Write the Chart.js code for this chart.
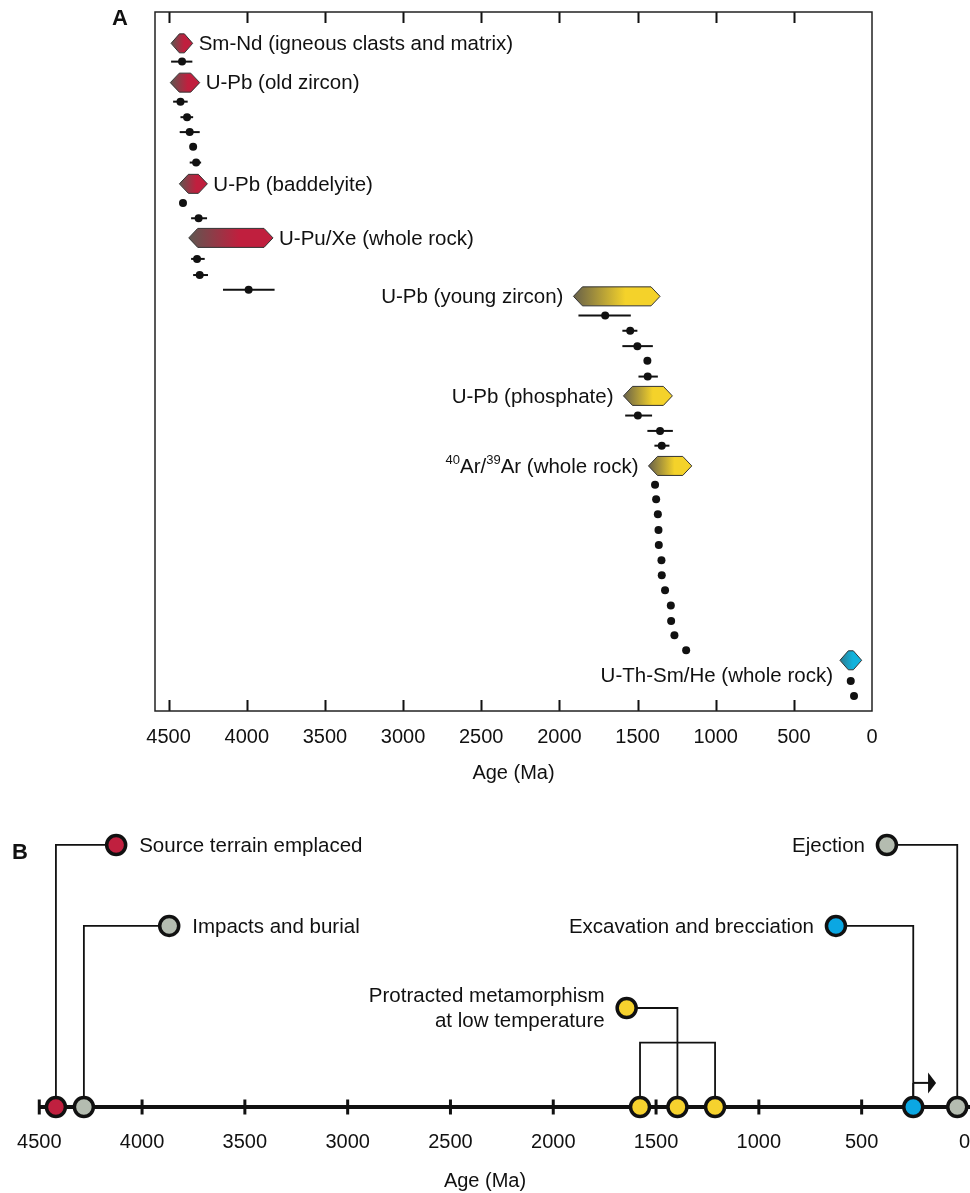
<!DOCTYPE html>
<html>
<head>
<meta charset="utf-8">
<script src="https://cdn.jsdelivr.net/npm/chart.js@4.4.1/dist/chart.umd.min.js"></script>
<style>
  html, body { margin: 0; padding: 0; background: #fff; }
  #wrap { position: relative; width: 970px; height: 1193px; overflow: hidden; }
  canvas { position: absolute; left: 0; }
  #chartA { top: 0; }
  #chartB { top: 800px; }
</style>
</head>
<body>
<div id="wrap">
  <canvas id="chartA" width="970" height="800"></canvas>
  <canvas id="chartB" width="970" height="393"></canvas>
</div>
<script>
// ---- Panel A: individual ages (Ma), 2-sigma range where drawn, row from top
const pointAge  = [4414, 4424, 4382, 4365, 4343, 4324, 4408, 4308, 4318, 4301, 3988,
                   1707, 1547, 1501, 1437, 1435, 1498, 1356, 1345,
                   1388, 1381, 1370, 1366, 1364, 1347, 1345, 1324, 1287, 1285, 1264, 1189,
                   136, 115];
const pointLow  = [4348, 4378, 4343, 4301, null, 4292, null, 4254, 4269, 4248, 3822,
                   1543, 1501, 1402, null, 1370, 1407, 1274, 1296,
                   null, null, null, null, null, null, null, null, null, null, null, null,
                   null, null];
const pointHigh = [4484, 4471, 4424, 4429, null, 4365, null, 4356, 4356, 4343, 4152,
                   1878, 1597, 1597, null, 1494, 1579, 1437, 1392,
                   null, null, null, null, null, null, null, null, null, null, null, null,
                   null, null];
const pointRow  = [3.26, 5.89, 6.91, 7.89, 8.86, 9.89, 12.54, 13.55, 16.22, 17.28, 18.24,
                   19.93, 20.94, 21.95, 22.91, 23.95, 26.51, 27.52, 28.49,
                   31.05, 32.01, 33.0, 34.03, 35.02, 36.01, 37.0, 37.98, 38.99, 40.0, 40.94, 41.93,
                   43.95, 44.93];

// method ranges (hexagons)
const hexLabel = ['Sm-Nd (igneous clasts and matrix)', 'U-Pb (old zircon)', 'U-Pb (baddelyite)',
                  'U-Pu/Xe (whole rock)', 'U-Pb (young zircon)', 'U-Pb (phosphate)',
                  '^40Ar/^39Ar (whole rock)', 'U-Th-Sm/He (whole rock)'];
const hexOld   = [4484, 4489, 4431, 4371, 1910, 1590, 1430, 205];
const hexYoung = [4346, 4301, 4252, 3832, 1356, 1277, 1153, 66];
const hexRow   = [2.06, 4.64, 11.29, 14.84, 18.68, 25.22, 29.82, 42.59];
const hexGroup = ['red', 'red', 'red', 'red', 'yellow', 'yellow', 'yellow', 'blue'];
const hexSide  = ['right', 'right', 'right', 'right', 'left', 'left', 'left', 'below'];

const ageTicks = [4500, 4000, 3500, 3000, 2500, 2000, 1500, 1000, 500, 0];

// ---- Panel B: timeline events
const eventAge   = [4419, 4283, 1578, 1396, 1213, 249, 35];
const eventGroup = ['red', 'gray', 'yellow', 'yellow', 'yellow', 'blue', 'gray'];
const calloutLabel = ['Source terrain emplaced', 'Impacts and burial',
                      'Protracted metamorphism\nat low temperature',
                      'Excavation and brecciation', 'Ejection'];
const calloutAge   = [4126, 3868, 1643, 625, 377];
const calloutLevel = [9.13, 6.31, 3.45, 6.31, 9.13];
const calloutEvent = [0, 1, 3, 5, 6];
const calloutGroup = ['red', 'gray', 'yellow', 'blue', 'gray'];
const calloutSide  = ['right', 'right', 'left', 'left', 'left'];
const bracketEvents = [2, 4];
const bracketLevel = 2.24;
const arrowFrom = 249, arrowTo = 138, arrowLevel = 0.84;

const FONT = '"Liberation Sans", Arial, Helvetica, sans-serif';
const fill = { red: '#c0203f', gray: '#b4bcb0', yellow: '#f6d22e', blue: '#0ba7e3' };
const hexColors = {
  red:    ['#5f5751', '#c01f3e'],
  yellow: ['#676049', '#f4d22a'],
  blue:   ['#2b7b8f', '#12b2dc']
};

function drawRich(ctx, text, x, y, align) {
  const parts = text.split(/(\^\d+)/).filter(Boolean);
  const big = '20.5px ' + FONT, small = '13px ' + FONT;
  const w = parts.map(p => {
    ctx.font = p[0] === '^' ? small : big;
    return ctx.measureText(p[0] === '^' ? p.slice(1) : p).width;
  });
  let cx = align === 'right' ? x - w.reduce((a, b) => a + b, 0) : x;
  ctx.textAlign = 'left';
  ctx.textBaseline = 'middle';
  parts.forEach((p, i) => {
    const sup = p[0] === '^';
    ctx.font = sup ? small : big;
    ctx.fillText(sup ? p.slice(1) : p, cx, sup ? y - 7 : y);
    cx += w[i];
  });
}

const panelA = {
  id: 'panelA',
  beforeDatasetsDraw(chart) {
    const { ctx, chartArea: a, scales: { x, y } } = chart;
    ctx.save();
    ctx.strokeStyle = '#111';
    ctx.lineWidth = 2;
    // inward ticks top and bottom
    ageTicks.forEach(v => {
      if (v === 0) return;
      const px = Math.round(x.getPixelForValue(v)) + 0.5;
      ctx.beginPath();
      ctx.moveTo(px, a.top); ctx.lineTo(px, a.top + 11);
      ctx.moveTo(px, a.bottom); ctx.lineTo(px, a.bottom - 11);
      ctx.stroke();
    });
    // error bars
    pointAge.forEach((v, i) => {
      if (pointLow[i] == null) return;
      const py = y.getPixelForValue(pointRow[i]);
      ctx.beginPath();
      ctx.moveTo(x.getPixelForValue(pointHigh[i]), py);
      ctx.lineTo(x.getPixelForValue(pointLow[i]), py);
      ctx.stroke();
    });
    // hexagons + labels
    hexRow.forEach((r, i) => {
      const x0 = x.getPixelForValue(hexOld[i]), x1 = x.getPixelForValue(hexYoung[i]);
      const cy = y.getPixelForValue(r), h = 9.5;
      const tip = Math.min(9, (x1 - x0) / 2.6);
      const c = hexColors[hexGroup[i]];
      const g = ctx.createLinearGradient(x0, 0, x1, 0);
      g.addColorStop(0, c[0]); g.addColorStop(0.6, c[1]); g.addColorStop(1, c[1]);
      ctx.beginPath();
      ctx.moveTo(x0, cy);
      ctx.lineTo(x0 + tip, cy - h);
      ctx.lineTo(x1 - tip, cy - h);
      ctx.lineTo(x1, cy);
      ctx.lineTo(x1 - tip, cy + h);
      ctx.lineTo(x0 + tip, cy + h);
      ctx.closePath();
      ctx.fillStyle = g;
      ctx.fill();
      ctx.lineWidth = 1;
      ctx.strokeStyle = '#333';
      ctx.stroke();
      ctx.fillStyle = '#111';
      if (hexSide[i] === 'right') drawRich(ctx, hexLabel[i], x1 + 6, cy + 1, 'left');
      else if (hexSide[i] === 'left') drawRich(ctx, hexLabel[i], x0 - 10, cy + 1, 'right');
      else drawRich(ctx, hexLabel[i], x0 - 7, cy + 16, 'right');
    });
    // frame
    ctx.lineWidth = 1.5;
    ctx.strokeStyle = '#222';
    ctx.strokeRect(a.left, a.top, a.right - a.left, a.bottom - a.top);
    // panel letter
    ctx.fillStyle = '#111';
    ctx.font = 'bold 22px ' + FONT;
    ctx.textAlign = 'center';
    ctx.textBaseline = 'middle';
    ctx.fillText('A', 120, 19);
    ctx.restore();
  }
};

new Chart(document.getElementById('chartA').getContext('2d'), {
  type: 'scatter',
  data: {
    datasets: [{
      data: pointAge.map((v, i) => ({ x: v, y: pointRow[i] })),
      backgroundColor: '#111',
      borderWidth: 0,
      pointRadius: 4,
      clip: false
    }]
  },
  options: {
    responsive: false,
    animation: false,
    events: [],
    layout: { autoPadding: false, padding: { left: 155, right: 98, top: 12, bottom: 0 } },
    plugins: { legend: { display: false }, tooltip: { enabled: false } },
    scales: {
      x: {
        type: 'linear', reverse: true, min: 0, max: 4587,
        afterBuildTicks: s => { s.ticks = ageTicks.map(v => ({ value: v })); },
        afterFit: s => { s.height = 89; s.paddingLeft = 0; s.paddingRight = 0; },
        grid: { display: false, drawTicks: false },
        border: { display: false },
        ticks: { autoSkip: false, maxRotation: 0, padding: 14, color: '#111',
                 callback: v => String(v),
                 font: { family: FONT, size: 20 } },
        title: { display: true, text: 'Age (Ma)', color: '#111',
                 font: { family: FONT, size: 20 }, padding: { top: 0, bottom: 15 } }
      },
      y: { type: 'linear', reverse: true, min: 0, max: 45.92, display: false }
    }
  },
  plugins: [panelA]
});

// ---- Panel B
const panelB = {
  id: 'panelB',
  beforeDatasetsDraw(chart) {
    const { ctx, chartArea: a, scales: { x, y } } = chart;
    const y0 = y.getPixelForValue(0);
    ctx.save();
    ctx.strokeStyle = '#111';
    ctx.lineWidth = 4;
    ctx.beginPath();
    ctx.moveTo(x.getPixelForValue(4500), y0);
    ctx.lineTo(a.right, y0);
    ctx.stroke();
    ctx.lineWidth = 3;
    ageTicks.forEach(v => {
      if (v === 0) return;
      const px = x.getPixelForValue(v);
      ctx.beginPath();
      ctx.moveTo(px, y0 - 7.5); ctx.lineTo(px, y0 + 7.5);
      ctx.stroke();
    });
    // arrow
    const ay = y.getPixelForValue(arrowLevel);
    const ax0 = x.getPixelForValue(arrowFrom), ax1 = x.getPixelForValue(arrowTo);
    ctx.lineWidth = 2;
    ctx.beginPath();
    ctx.moveTo(ax0, ay); ctx.lineTo(ax1 - 7, ay);
    ctx.stroke();
    ctx.fillStyle = '#111';
    ctx.beginPath();
    ctx.moveTo(ax1, ay); ctx.lineTo(ax1 - 8, ay - 10.5); ctx.lineTo(ax1 - 8, ay + 10.5);
    ctx.closePath();
    ctx.fill();
    ctx.restore();
  },
  afterDatasetsDraw(chart) {
    const { ctx, scales: { x, y } } = chart;
    ctx.save();
    ctx.fillStyle = '#111';
    calloutLabel.forEach((t, i) => {
      const px = x.getPixelForValue(calloutAge[i]), py = y.getPixelForValue(calloutLevel[i]);
      const lines = t.split('\n');
      lines.forEach((ln, k) => {
        const ly = py + 1 + (k - (lines.length - 1) / 2) * 25;
        if (calloutSide[i] === 'right') drawRich(ctx, ln, px + 23, ly, 'left');
        else drawRich(ctx, ln, px - 22, ly, 'right');
      });
    });
    ctx.font = 'bold 22px ' + FONT;
    ctx.textAlign = 'center';
    ctx.textBaseline = 'middle';
    ctx.fillText('B', 20, 53);
    ctx.restore();
  }
};

const connectorSets = calloutAge.map((v, i) => {
  const e = eventAge[calloutEvent[i]];
  return {
    data: [{ x: v, y: calloutLevel[i] }, { x: e, y: calloutLevel[i] }, { x: e, y: 0 }],
    showLine: true, borderColor: '#111', borderWidth: 1.8, pointRadius: 0, clip: false
  };
});
connectorSets.push({
  data: [{ x: eventAge[bracketEvents[0]], y: 0 }, { x: eventAge[bracketEvents[0]], y: bracketLevel },
         { x: eventAge[bracketEvents[1]], y: bracketLevel }, { x: eventAge[bracketEvents[1]], y: 0 }],
  showLine: true, borderColor: '#111', borderWidth: 1.8, pointRadius: 0, clip: false
});
const arrowStem = {
  data: [{ x: eventAge[5], y: arrowLevel }, { x: eventAge[5], y: 0 }],
  showLine: true, borderColor: '#111', borderWidth: 1.8, pointRadius: 0, clip: false
};

new Chart(document.getElementById('chartB').getContext('2d'), {
  type: 'scatter',
  data: {
    datasets: [
      {
        data: calloutAge.map((v, i) => ({ x: v, y: calloutLevel[i] })),
        backgroundColor: calloutGroup.map(g => fill[g]),
        borderColor: '#111', borderWidth: 3.5, pointRadius: 9.5, clip: false
      },
      {
        data: eventAge.map(v => ({ x: v, y: 0 })),
        backgroundColor: eventGroup.map(g => fill[g]),
        borderColor: '#111', borderWidth: 3.5, pointRadius: 9.5, clip: false
      },
      ...connectorSets,
      arrowStem
    ]
  },
  options: {
    responsive: false,
    animation: false,
    events: [],
    layout: { autoPadding: false, padding: { left: 0, right: 0, top: 20, bottom: 0 } },
    plugins: { legend: { display: false }, tooltip: { enabled: false } },
    scales: {
      x: {
        type: 'linear', reverse: true, min: -27, max: 4691,
        afterBuildTicks: s => { s.ticks = ageTicks.map(v => ({ value: v })); },
        afterFit: s => { s.height = 86; s.paddingLeft = 0; s.paddingRight = 0; },
        grid: { display: false, drawTicks: false },
        border: { display: false },
        ticks: { autoSkip: false, maxRotation: 0, padding: 23, color: '#111',
                 callback: v => String(v),
                 font: { family: FONT, size: 20 } },
        title: { display: true, text: 'Age (Ma)', color: '#111',
                 font: { family: FONT, size: 20 }, padding: { top: 0, bottom: 0 } }
      },
      y: { type: 'linear', min: 0, max: 10, display: false }
    }
  },
  plugins: [panelB]
});
</script>
</body>
</html>
